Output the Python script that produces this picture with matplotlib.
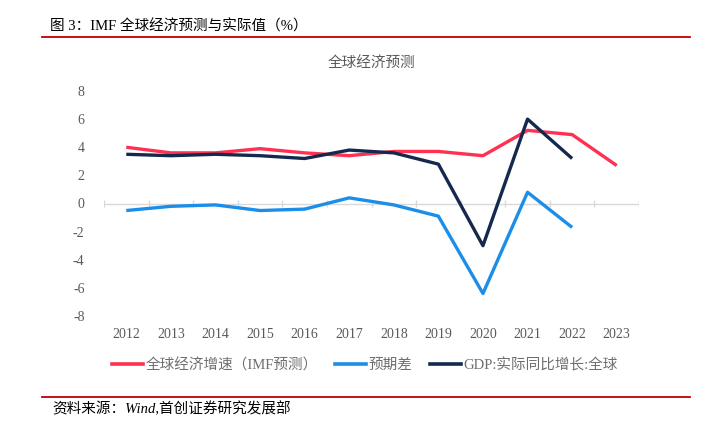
import matplotlib
matplotlib.use("Agg")
import matplotlib.pyplot as plt
from matplotlib.lines import Line2D

plt.rcParams['font.family'] = ['Liberation Serif', 'Noto Sans CJK SC', 'DejaVu Sans']
plt.rcParams['axes.unicode_minus'] = False

years = ['2012', '2013', '2014', '2015', '2016', '2017', '2018', '2019', '2020', '2021', '2022', '2023']
imf_forecast = [4.0, 3.6, 3.6, 3.9, 3.6, 3.4, 3.7, 3.7, 3.4, 5.2, 4.9, 2.7]
forecast_gap = [-0.5, -0.2, -0.1, -0.5, -0.4, 0.4, -0.1, -0.9, -6.4, 0.8, -1.7]
gdp_actual = [3.5, 3.4, 3.5, 3.4, 3.2, 3.8, 3.6, 2.8, -3.0, 6.0, 3.2]

c_red = '#FE3152'
c_blue = '#1B8EEA'
c_navy = '#14294D'
gray = '#595959'

fig = plt.figure(figsize=(7.04, 4.25), dpi=100)
ax = fig.add_axes([104/704, 1-316/425, 535/704, 225/425])

x = list(range(len(years)))
ax.plot(x, imf_forecast, color=c_red, lw=2.4, solid_capstyle='butt', zorder=3)
ax.plot(x[:len(forecast_gap)], forecast_gap, color=c_blue, lw=2.4, solid_capstyle='butt', zorder=3)
ax.plot(x[:len(gdp_actual)], gdp_actual, color=c_navy, lw=2.4, solid_capstyle='butt', zorder=4)

ax.set_xlim(-0.5, len(years) - 0.5)
ax.set_ylim(-8, 8)
ax.set_yticks(range(-8, 9, 2))
ax.set_yticklabels([str(v) for v in range(-8, 9, 2)])
ax.set_xticks(x)
ax.set_xticklabels(years)
for s in ax.spines.values():
    s.set_visible(False)
ax.tick_params(axis='both', length=0, colors=gray, labelsize=10)
ax.tick_params(axis='x', pad=9)
ax.tick_params(axis='y', pad=14)

ax.axhline(0, color='#D9D9D9', lw=1, zorder=1)
bounds = [i - 0.5 for i in range(len(years) + 1)]
ax.vlines(bounds, -0.25, 0.25, color='#D9D9D9', lw=1, zorder=1)

ax.set_title('全球经济预测', color=gray, fontsize=10.5, pad=17)

handles = [Line2D([], [], color=c_red, lw=2.6),
           Line2D([], [], color=c_blue, lw=2.6),
           Line2D([], [], color=c_navy, lw=2.6)]
labels = ['全球经济增速（IMF预测）', '预期差', 'GDP:实际同比增长:全球']
leg = fig.legend(handles, labels, loc='center', bbox_to_anchor=(365/704, 1-365/425), ncol=3,
                 frameon=False, fontsize=10.5, handlelength=2.1, handletextpad=0.2,
                 columnspacing=1.2, borderpad=0, borderaxespad=0)
for t in leg.get_texts():
    t.set_color('#6E6E6E')

# header and footer
fig.text(50/704, 1-27/425, '图 3：IMF 全球经济预测与实际值（%）', fontsize=10.5,
         color='black', va='center', ha='left')
fig.add_artist(Line2D([42/704, 690/704], [1-37/425, 1-37/425], color='#C00000', lw=1.3))
fig.add_artist(Line2D([42/704, 690/704], [1-397/425, 1-397/425], color='#C00000', lw=1.3))
fig.text(52/704, 1-409/425, '资料来源：Wind,首创证券研究发展部', fontsize=10.5, style='italic',
         color='black', va='center', ha='left')

fig.savefig('out.png', dpi=100)
